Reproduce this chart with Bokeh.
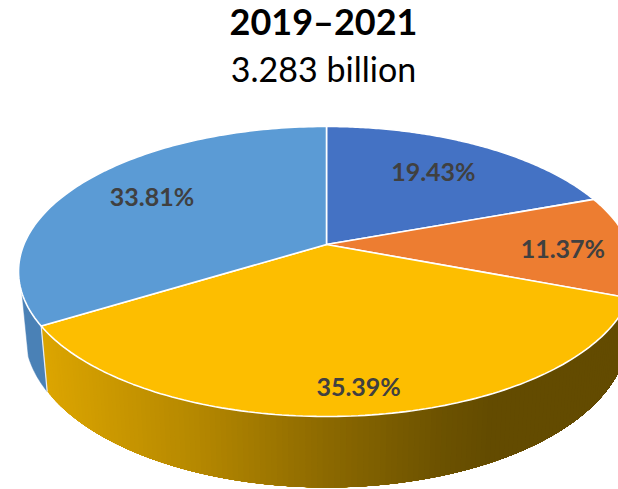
import numpy as np
from bokeh.plotting import figure
from bokeh.models import Range1d
from bokeh.core.properties import value
from bokeh.embed import file_html
from bokeh.resources import INLINE

title_text = "2019–2021"
subtitle_text = "3.283 billion"
categories = ["A", "B", "C", "D"]
shares = [19.43, 11.37, 35.39, 33.81]
labels = ["19.43%", "11.37%", "35.39%", "33.81%"]
face_colors = ["#4472C4", "#ED7D31", "#FDBE00", "#5B9BD5"]
label_radius = [0.71, 0.78, 0.83, 0.72]
label_dx = [0, 0, 3, 0]
label_dy = [-3, 3, 0, -3]

CX, CY = 326.0, 244.0
C, A, K = 302.6, 140.0, 0.186
SX, SY, DY = 0.979, 1.06, 60.6


def top(t):
    r = np.radians(t)
    u, v = np.sin(r), np.cos(r)
    w = 1 + K * v
    return u / w, -v / w


def rim_top(t, r=1.0):
    a, b = top(t)
    return CX + r * C * a, CY + r * A * b


def rim_low(t):
    a, b = top(t)
    return CX + SX * C * a, CY + DY + SY * A * b


edges = np.cumsum([0.0] + shares) * 3.6
edges = edges / edges[-1] * 360

p = figure(width=618, height=489, x_range=Range1d(0, 618), y_range=Range1d(489, 0),
           output_backend="svg", toolbar_location=None, min_border=0,
           outline_line_color=None)
p.axis.visible = False
p.grid.visible = False

# blue side, back-left
ts = np.linspace(edges[3], 251, 30)
xa, ya = rim_top(ts)
xb, yb = rim_low(ts)
p.patch(np.r_[xa, xb[::-1]], np.r_[ya, yb[::-1]], fill_color="#4A81B6", line_color="#4A81B6", line_width=0.5)

# yellow side, shaded in bands; each band runs to the far end so no seams show
stop_x = [40, 200, 326, 440, 490, 618]
stop_rgb = np.array([[221, 166, 0], [180, 135, 0], [140, 105, 0], [108, 82, 0], [99, 75, 0], [99, 75, 0]], float)
t_end = edges[2] - 25
band_edges = np.linspace(edges[3], t_end, 170)
xs, ys, cols = [], [], []
for t0, t1 in zip(band_edges[:-1], band_edges[1:]):
    tt = np.linspace(t0, t_end, 40)
    xa, ya = rim_top(tt)
    xb, yb = rim_low(tt)
    xs.append(np.r_[xa, xb[::-1]].tolist())
    ys.append(np.r_[ya, yb[::-1]].tolist())
    m0, _ = rim_top((t0 + t1) / 2)
    m1, _ = rim_low((t0 + t1) / 2)
    mx = (m0 + m1) / 2
    c = [int(round(np.interp(mx, stop_x, stop_rgb[:, i]))) for i in range(3)]
    cols.append("#%02x%02x%02x" % tuple(c))
p.patches(xs, ys, fill_color=cols, line_color=None)

# edge between the two visible sides
xa, ya = rim_top(edges[3])
xb, yb = rim_low(edges[3])
p.line([xa, xb], [ya, yb], line_color="#E8EEF5", line_width=1.2)

# top faces
for i, col in enumerate(face_colors):
    ts = np.linspace(edges[i], edges[i + 1], 120)
    x, y = rim_top(ts)
    p.patch(np.r_[CX, x], np.r_[CY, y], fill_color=col, line_color="white", line_width=1.6)

# data labels
mids = (edges[:-1] + edges[1:]) / 2
lx, ly = [], []
for m, r, dx, dy in zip(mids, label_radius, label_dx, label_dy):
    a, b = rim_top(m, r)
    lx.append(float(a) + dx)
    ly.append(float(b) + dy)
p.text(lx, ly, text=labels, text_color="#404040", text_font=value("Lato"), text_font_style="bold",
       text_font_size="25px", text_align="center", text_baseline="middle")

p.text([323], [20], text=[title_text], text_color="black", text_font=value("Lato"), text_font_style="bold",
       text_font_size="36px", text_align="center", text_baseline="middle")
p.text([323], [68], text=[subtitle_text], text_color="black", text_font=value("Lato"),
       text_font_size="34px", text_align="center", text_baseline="middle")

open("out.html", "w").write(file_html(p, INLINE))
